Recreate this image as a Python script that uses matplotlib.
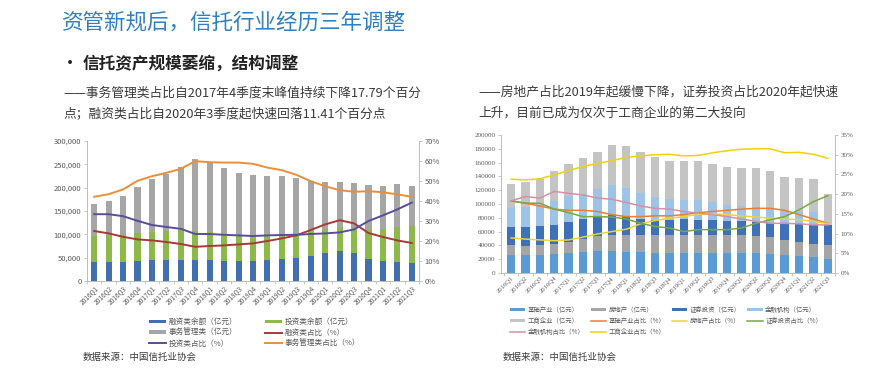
import matplotlib
matplotlib.use("Agg")
import matplotlib.pyplot as plt
import matplotlib.ticker as mticker
import numpy as np

plt.rcParams['font.family'] = ['Noto Sans CJK SC', 'DejaVu Sans']

quarters = ['2016Q1', '2016Q2', '2016Q3', '2016Q4', '2017Q1', '2017Q2', '2017Q3', '2017Q4',
            '2018Q1', '2018Q2', '2018Q3', '2018Q4', '2019Q1', '2019Q2', '2019Q3', '2019Q4',
            '2020Q1', '2020Q2', '2020Q3', '2020Q4', '2021Q1', '2021Q2', '2021Q3']

# left chart: balances (亿元) and shares (%)
fin_amt = [41500, 41000, 40200, 42000, 44500, 44800, 45100, 44800, 44500, 43100, 42500, 42700,
           45000, 47900, 50200, 54600, 60000, 64400, 59600, 48200, 43900, 41400, 38800]
inv_amt = [55400, 57400, 59000, 60800, 61300, 62100, 63700, 61600, 59700, 55900, 52900, 51100,
           51300, 51800, 50800, 50300, 50500, 51500, 53900, 61500, 66900, 74100, 80000]
mgmt_amt = [69100, 73600, 82800, 99200, 113200, 123100, 135200, 155600, 149800, 143000, 136600, 133200,
            128700, 125300, 119000, 109100, 101500, 96100, 95500, 95300, 93200, 91500, 85200]
fin_pct = [25.0, 23.8, 22.1, 20.8, 20.3, 19.5, 18.5, 17.1, 17.5, 17.8, 18.3, 18.8,
           20.0, 21.3, 22.8, 25.5, 28.3, 30.4, 28.8, 24.0, 22.0, 20.3, 19.0]
inv_pct = [33.4, 33.4, 32.4, 30.1, 28.0, 27.0, 26.1, 23.5, 23.5, 23.1, 22.8, 22.5,
           22.8, 23.0, 23.1, 23.5, 23.8, 24.3, 25.8, 30.0, 32.8, 35.8, 39.2]
mgmt_pct = [42.1, 43.4, 45.8, 50.1, 52.4, 54.1, 56.1, 59.9, 59.4, 59.2, 59.2, 58.6,
            56.7, 55.4, 53.1, 49.9, 47.4, 45.4, 44.6, 44.9, 44.4, 43.3, 42.1]

# right chart: investment direction (亿元) and shares (%)
infra_amt = [26500, 26500, 26500, 27000, 29500, 30500, 31500, 31500, 31000, 30000, 29000, 28500,
             28500, 29000, 29000, 29000, 29000, 28500, 28000, 25500, 24000, 22500, 21000]
estate_amt = [13500, 13000, 13500, 15000, 16000, 18500, 21500, 23500, 24000, 25000, 25500, 26500,
              27000, 26000, 26000, 26000, 25500, 25500, 24000, 22500, 20500, 19000, 19000]
sec_amt = [26500, 27000, 27500, 27500, 29000, 29000, 28000, 29000, 27000, 23000, 22500, 22000,
           22500, 22500, 22000, 20500, 20500, 20500, 21000, 24000, 26500, 28500, 29000]
finorg_amt = [27500, 29000, 29500, 35500, 37000, 36500, 41000, 43500, 41000, 38500, 33000, 30000,
              28000, 28500, 26500, 23500, 21500, 21000, 19500, 17500, 17000, 19000, 0]
biz_amt = [35000, 36500, 39000, 43000, 46500, 52500, 54000, 58500, 61000, 58500, 58000, 56000,
           57000, 56000, 54500, 55000, 55500, 56500, 55500, 49500, 49000, 47000, 45000]
infra_pct = [18.3, 17.7, 17.0, 16.2, 15.9, 15.9, 15.6, 14.8, 14.3, 14.3, 14.5, 14.5,
             14.8, 15.3, 15.6, 15.9, 16.2, 16.4, 16.4, 15.9, 14.8, 13.7, 12.6]
estate_pct = [8.9, 8.6, 8.4, 8.2, 8.4, 9.1, 9.9, 10.5, 11.1, 12.5, 13.3, 13.9,
              14.3, 14.9, 15.0, 14.8, 14.5, 14.2, 13.9, 13.7, 13.5, 13.1, 12.5]
sec_pct = [18.3, 17.7, 17.7, 16.2, 15.3, 14.3, 14.3, 14.2, 13.7, 12.6, 11.8, 11.4,
           10.5, 11.0, 11.0, 11.0, 11.4, 12.6, 13.5, 14.3, 16.0, 18.1, 19.6]
finorg_pct = [18.3, 19.4, 19.0, 20.7, 20.2, 19.8, 19.0, 18.7, 17.9, 17.0, 16.4, 16.2,
              15.6, 15.2, 14.8, 14.3, 13.7, 13.1, 12.6, 12.6, 12.5, 12.2, 12.2]
biz_pct = [23.8, 23.6, 23.9, 24.9, 26.0, 27.0, 27.8, 28.5, 29.3, 29.7, 30.0, 30.1,
           29.7, 29.8, 30.5, 31.0, 31.4, 31.5, 31.5, 30.5, 30.6, 30.1, 29.1]

W, H = 882, 387
fig = plt.figure(figsize=(W / 100, H / 100), dpi=100)
fig.patch.set_facecolor('white')


def px(x, y):
    return x / W, 1 - y / H


text_c = '#3a3a3a'
fig.text(*px(62, 23), '资管新规后，信托行业经历三年调整', fontsize=15.5, color='#2F7FC3', va='center')
fig.text(*px(61, 64), '•', fontsize=13, color='#222222', va='center')
fig.text(*px(83, 64), '信托资产规模萎缩，结构调整', fontsize=12, fontweight='bold', color='#222222', va='center')
fig.text(*px(63, 93), '——事务管理类占比自2017年4季度末峰值持续下降17.79个百分', fontsize=9.2, color=text_c, va='center')
fig.text(*px(63, 115), '点；融资类占比自2020年3季度起快速回落11.41个百分点', fontsize=9.2, color=text_c, va='center')
fig.text(*px(478, 92), '——房地产占比2019年起缓慢下降，证券投资占比2020年起快速', fontsize=9.2, color=text_c, va='center')
fig.text(*px(478, 113), '上升，目前已成为仅次于工商企业的第二大投向', fontsize=9.2, color=text_c, va='center')
fig.text(*px(83, 357), '数据来源：中国信托业协会', fontsize=6.8, color=text_c, va='center')
fig.text(*px(503, 357), '数据来源：中国信托业协会', fontsize=6.8, color=text_c, va='center')

x = np.arange(len(quarters))
axis_c = '#BFBFBF'
tick_c = '#595959'


def style_axes(ax, ax2):
    for a in (ax, ax2):
        a.spines['top'].set_visible(False)
        for s in ('left', 'right', 'bottom'):
            a.spines[s].set_color(axis_c)
            a.spines[s].set_linewidth(0.7)
    ax.set_xticks(x)
    ax.set_xticks(np.arange(-0.5, len(quarters), 1), minor=True)
    ax.tick_params(axis='x', which='major', length=0, pad=2)
    ax.tick_params(axis='x', which='minor', length=2.5, color=axis_c, width=0.6)
    ax.set_xticklabels(quarters, rotation=45, ha='right', rotation_mode='anchor',
                       fontsize=4.8, color=tick_c)
    ax.tick_params(axis='y', length=2, color=axis_c, width=0.6, pad=2)
    ax2.tick_params(axis='y', length=2, color=axis_c, width=0.6, pad=2)


# ---------------- left chart ----------------
l0, r0 = px(87, 0)[0], px(419, 0)[0]
b0, t0 = px(0, 281)[1], px(0, 141)[1]
ax = fig.add_axes([l0, b0, r0 - l0, t0 - b0])
bw = 0.42
b1 = ax.bar(x, fin_amt, bw, color='#4170B0', label='融资类余额（亿元）')
b2 = ax.bar(x, inv_amt, bw, bottom=fin_amt, color='#8DB94B', label='投资类余额（亿元）')
bot = np.array(fin_amt) + np.array(inv_amt)
b3 = ax.bar(x, mgmt_amt, bw, bottom=bot, color='#A6A6A6', label='事务管理类（亿元）')
ax.set_ylim(0, 300000)
ax.set_xlim(-0.5, len(quarters) - 0.5)
ax.yaxis.set_major_locator(mticker.MultipleLocator(50000))
ax.yaxis.set_major_formatter(mticker.FuncFormatter(lambda v, p: f'{int(v):,}'))
for lab in ax.get_yticklabels():
    lab.set_fontsize(5.5)
    lab.set_color(tick_c)

ax2 = ax.twinx()
l1, = ax2.plot(x, fin_pct, color='#A8383A', lw=1.4, label='融资类占比（%）')
l2, = ax2.plot(x, inv_pct, color='#5A4C9C', lw=1.4, label='投资类占比（%）')
l3, = ax2.plot(x, mgmt_pct, color='#E98F3C', lw=1.4, label='事务管理类占比（%）')
ax2.set_ylim(0, 70)
ax2.yaxis.set_major_locator(mticker.MultipleLocator(10))
ax2.yaxis.set_major_formatter(mticker.FuncFormatter(lambda v, p: f'{int(v)}%'))
for lab in ax2.get_yticklabels():
    lab.set_fontsize(5.5)
    lab.set_color(tick_c)
style_axes(ax, ax2)

handles = [b1, b3, l2, b2, l1, l3]
fig.legend(handles, [h.get_label() for h in handles], ncol=2, loc='center left',
           bbox_to_anchor=px(142, 333), frameon=False, fontsize=5.5,
           handlelength=2.2, handleheight=0.4, labelspacing=0.35, columnspacing=3.6,
           handletextpad=0.4, labelcolor=tick_c)

# ---------------- right chart ----------------
l0, r0 = px(501, 0)[0], px(835, 0)[0]
b0, t0 = px(0, 273), px(0, 135)
b0, t0 = b0[1], t0[1]
bx = fig.add_axes([l0, b0, r0 - l0, t0 - b0])
serif = ['Liberation Serif', 'Noto Sans CJK SC']
bw = 0.58
cum = np.zeros(len(quarters))
rb = []
for vals, col, lab in [(infra_amt, '#5B9BD5', '基础产业（亿元）'),
                       (estate_amt, '#A5A5A5', '房地产（亿元）'),
                       (sec_amt, '#3F71B9', '证券投资（亿元）'),
                       (finorg_amt, '#9DC3E6', '金融机构（亿元）'),
                       (biz_amt, '#C4C4C4', '工商企业（亿元）')]:
    rb.append(bx.bar(x, vals, bw, bottom=cum, color=col, label=lab))
    cum = cum + np.array(vals)
bx.set_ylim(0, 200000)
bx.set_xlim(-0.7, len(quarters) - 0.5)
bx.yaxis.set_major_locator(mticker.MultipleLocator(20000))
bx.yaxis.set_major_formatter(mticker.FuncFormatter(lambda v, p: f'{int(v)}'))
for lab in bx.get_yticklabels():
    lab.set_fontsize(5)
    lab.set_family(serif)
    lab.set_color(tick_c)

bx2 = bx.twinx()
rl = []
for vals, col, lab in [(infra_pct, '#ED7D31', '基础产业占比（%）'),
                       (estate_pct, '#E9D43A', '房地产占比（%）'),
                       (sec_pct, '#78A845', '证券投资占比（%）'),
                       (finorg_pct, '#D690A6', '金融机构占比（%）'),
                       (biz_pct, '#F0D20A', '工商企业占比（%）')]:
    line, = bx2.plot(x, vals, color=col, lw=1.1, label=lab)
    rl.append(line)
bx2.set_ylim(0, 35)
bx2.yaxis.set_major_locator(mticker.MultipleLocator(5))
bx2.yaxis.set_major_formatter(mticker.FuncFormatter(lambda v, p: f'{int(v)}%'))
for lab in bx2.get_yticklabels():
    lab.set_fontsize(5)
    lab.set_family(serif)
    lab.set_color(tick_c)
style_axes(bx, bx2)
bx.spines['left'].set_visible(False)
for lab in bx.get_xticklabels():
    lab.set_family(serif)

handles = [rb[0], rb[4], rl[3], rb[1], rl[0], rl[4], rb[2], rl[1], rb[3], rl[2]]
fig.legend(handles, [h.get_label() for h in handles], ncol=4, loc='center left',
           bbox_to_anchor=px(504, 321), frameon=False, fontsize=4.6,
           handlelength=2.4, handleheight=0.35, labelspacing=0.45, columnspacing=1.0,
           handletextpad=0.4, labelcolor=tick_c)

fig.savefig('out.png', dpi=100, facecolor='white')
